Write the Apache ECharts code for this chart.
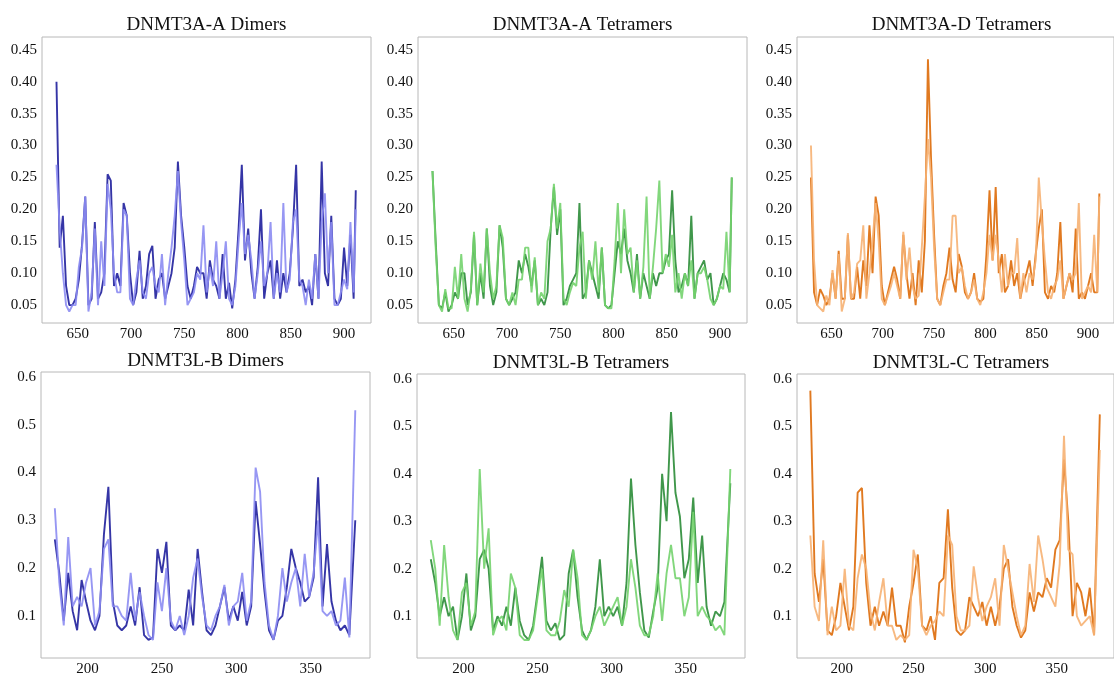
<!DOCTYPE html>
<html><head><meta charset="utf-8">
<script src="https://cdn.jsdelivr.net/npm/echarts@6/dist/echarts.min.js"></script>
<style>html,body{margin:0;padding:0;background:#fff}#c{width:1114px;height:677px}</style>
</head><body><div id="c"></div>
<script>
const panelTitles = ["DNMT3A-A Dimers","DNMT3A-A Tetramers","DNMT3A-D Tetramers","DNMT3L-B Dimers","DNMT3L-B Tetramers","DNMT3L-C Tetramers"];

const residuesTop = [630,633,636,639,642,645,648,651,654,657,660,663,666,669,672,675,678,681,684,687,690,693,696,699,702,705,708,711,714,717,720,723,726,729,732,735,738,741,744,747,750,753,756,759,762,765,768,771,774,777,780,783,786,789,792,795,798,801,804,807,810,813,816,819,822,825,828,831,834,837,840,843,846,849,852,855,858,861,864,867,870,873,876,879,882,885,888,891,894,897,900,903,906,909,911];
const residuesBottom = [178,181,184,187,190,193,196,199,202,205,208,211,214,217,220,223,226,229,232,235,238,241,244,247,250,253,256,259,262,265,268,271,274,277,280,283,286,289,292,295,298,301,304,307,310,313,316,319,322,325,328,331,334,337,340,343,346,349,352,355,358,361,364,367,370,373,376,380];

const yTicksTop = [0.05,0.10,0.15,0.20,0.25,0.30,0.35,0.40,0.45];
const yTicksBottom = [0.1,0.2,0.3,0.4,0.5,0.6];
const xTicksTop = [650,700,750,800,850,900];
const xTicksBottom = [200,250,300,350];

const p1Dark = [0.40,0.14,0.19,0.08,0.05,0.05,0.06,0.09,0.145,0.22, 0.05,0.06,0.18,0.06,0.07,0.10,0.255,0.245,0.08,0.10, 0.08,0.21,0.19,0.10,0.05,0.07,0.135,0.06,0.08,0.13, 0.143,0.06,0.09,0.10,0.06,0.08,0.10,0.14,0.275,0.19, 0.14,0.08,0.06,0.08,0.11,0.10,0.10,0.06,0.12,0.09, 0.08,0.06,0.13,0.06,0.085,0.045,0.09,0.17,0.27,0.12, 0.17,0.10,0.06,0.11,0.20,0.06,0.10,0.12,0.06,0.12, 0.06,0.10,0.07,0.10,0.17,0.27,0.08,0.09,0.07,0.08, 0.05,0.13,0.06,0.275,0.10,0.08,0.19,0.06,0.05,0.06, 0.14,0.08,0.16,0.06,0.23];
const p1Light = [0.27,0.17,0.10,0.05,0.04,0.05,0.05,0.11,0.14,0.22, 0.04,0.07,0.17,0.05,0.15,0.08,0.24,0.20,0.10,0.07, 0.07,0.20,0.19,0.06,0.05,0.09,0.12,0.07,0.06,0.10, 0.11,0.08,0.07,0.13,0.05,0.10,0.14,0.19,0.26,0.18, 0.12,0.05,0.06,0.07,0.10,0.09,0.175,0.07,0.11,0.08, 0.15,0.06,0.10,0.15,0.06,0.05,0.08,0.15,0.21,0.13, 0.16,0.12,0.06,0.10,0.15,0.08,0.10,0.18,0.06,0.10, 0.07,0.21,0.07,0.09,0.18,0.20,0.09,0.08,0.05,0.09, 0.06,0.13,0.06,0.18,0.225,0.10,0.18,0.05,0.05,0.07, 0.09,0.075,0.18,0.07,0.20];
const p2Dark = [0.26,0.15,0.05,0.045,0.07,0.04,0.05,0.07,0.06,0.10, 0.10,0.05,0.07,0.16,0.05,0.10,0.06,0.17,0.08,0.05, 0.07,0.175,0.14,0.06,0.05,0.06,0.07,0.12,0.10,0.13, 0.11,0.08,0.12,0.05,0.06,0.05,0.07,0.17,0.235,0.16, 0.20,0.05,0.06,0.08,0.09,0.10,0.21,0.06,0.07,0.12, 0.10,0.08,0.06,0.14,0.05,0.045,0.05,0.10,0.15,0.13, 0.17,0.12,0.10,0.07,0.13,0.06,0.10,0.08,0.06,0.10, 0.08,0.10,0.10,0.12,0.13,0.23,0.12,0.07,0.08,0.10, 0.08,0.19,0.06,0.10,0.11,0.12,0.09,0.10,0.05,0.06, 0.08,0.10,0.09,0.07,0.25];
const p2Light = [0.26,0.14,0.05,0.04,0.075,0.045,0.045,0.11,0.06,0.13, 0.06,0.04,0.075,0.165,0.05,0.115,0.07,0.17,0.10,0.06, 0.08,0.175,0.155,0.06,0.05,0.07,0.05,0.09,0.09,0.14, 0.14,0.07,0.125,0.05,0.07,0.06,0.15,0.17,0.24,0.17, 0.21,0.06,0.05,0.07,0.085,0.08,0.14,0.165,0.06,0.12, 0.09,0.15,0.07,0.14,0.05,0.045,0.045,0.12,0.21,0.10, 0.20,0.13,0.14,0.07,0.12,0.06,0.11,0.22,0.06,0.11, 0.17,0.245,0.10,0.13,0.11,0.16,0.07,0.10,0.06,0.10, 0.08,0.12,0.06,0.10,0.10,0.11,0.09,0.06,0.05,0.06, 0.08,0.075,0.165,0.07,0.25];
const p3Dark = [0.25,0.07,0.05,0.075,0.065,0.05,0.06,0.10,0.06,0.135, 0.06,0.06,0.16,0.06,0.06,0.11,0.06,0.12,0.08,0.175, 0.10,0.22,0.19,0.08,0.05,0.07,0.09,0.11,0.09,0.06, 0.16,0.10,0.06,0.10,0.05,0.12,0.07,0.15,0.435,0.28, 0.16,0.06,0.05,0.08,0.10,0.14,0.09,0.07,0.13,0.11, 0.07,0.06,0.07,0.10,0.06,0.055,0.06,0.13,0.23,0.12, 0.235,0.10,0.13,0.07,0.08,0.12,0.08,0.10,0.06,0.085, 0.10,0.12,0.08,0.13,0.17,0.20,0.07,0.06,0.08,0.07, 0.10,0.18,0.06,0.08,0.10,0.07,0.17,0.06,0.07,0.06, 0.08,0.10,0.07,0.07,0.225];
const p3Light = [0.30,0.12,0.05,0.045,0.04,0.065,0.05,0.105,0.06,0.13, 0.04,0.06,0.163,0.06,0.07,0.115,0.12,0.175,0.06,0.10, 0.15,0.21,0.15,0.06,0.05,0.065,0.08,0.10,0.08,0.06, 0.165,0.09,0.14,0.08,0.06,0.065,0.14,0.22,0.31,0.25, 0.14,0.06,0.05,0.07,0.09,0.09,0.19,0.19,0.10,0.11, 0.08,0.06,0.07,0.09,0.06,0.05,0.07,0.10,0.16,0.12, 0.16,0.12,0.07,0.13,0.08,0.10,0.10,0.155,0.06,0.10, 0.07,0.10,0.09,0.12,0.25,0.18,0.12,0.07,0.06,0.08, 0.09,0.12,0.06,0.08,0.10,0.09,0.10,0.21,0.06,0.07, 0.08,0.07,0.16,0.07,0.22];
const p4Dark = [0.26,0.19,0.09,0.19,0.11,0.07,0.175,0.13,0.09,0.07, 0.10,0.27,0.37,0.13,0.08,0.07,0.08,0.12,0.08,0.16, 0.06,0.05,0.055,0.24,0.19,0.255,0.08,0.07,0.08,0.07, 0.155,0.08,0.24,0.15,0.07,0.06,0.08,0.12,0.16,0.09, 0.12,0.09,0.15,0.08,0.12,0.34,0.25,0.15,0.07,0.05, 0.09,0.10,0.16,0.24,0.20,0.17,0.13,0.14,0.18,0.39, 0.12,0.25,0.13,0.09,0.07,0.08,0.06,0.30];
const p4Light = [0.325,0.17,0.08,0.265,0.12,0.14,0.12,0.17,0.20,0.08, 0.11,0.24,0.26,0.12,0.12,0.10,0.09,0.19,0.09,0.15, 0.10,0.06,0.05,0.17,0.11,0.20,0.09,0.07,0.10,0.06, 0.10,0.18,0.22,0.14,0.08,0.07,0.10,0.12,0.165,0.08, 0.12,0.13,0.19,0.09,0.13,0.41,0.36,0.17,0.08,0.05, 0.10,0.20,0.13,0.17,0.20,0.12,0.23,0.14,0.19,0.30, 0.11,0.10,0.11,0.08,0.09,0.18,0.055,0.53];
const p5Dark = [0.22,0.17,0.10,0.14,0.10,0.12,0.05,0.10,0.19,0.07, 0.10,0.22,0.24,0.20,0.07,0.10,0.08,0.12,0.08,0.16, 0.09,0.06,0.05,0.08,0.15,0.225,0.09,0.07,0.085,0.05, 0.06,0.19,0.24,0.14,0.07,0.05,0.07,0.12,0.22,0.10, 0.12,0.10,0.12,0.08,0.17,0.39,0.25,0.15,0.07,0.055, 0.11,0.16,0.40,0.30,0.53,0.36,0.31,0.18,0.22,0.35, 0.17,0.27,0.12,0.08,0.11,0.10,0.13,0.38];
const p5Light = [0.26,0.20,0.08,0.25,0.14,0.07,0.05,0.15,0.17,0.08, 0.11,0.41,0.20,0.285,0.06,0.09,0.10,0.07,0.19,0.16, 0.06,0.05,0.05,0.07,0.14,0.20,0.07,0.06,0.06,0.09, 0.155,0.12,0.24,0.18,0.06,0.05,0.07,0.10,0.12,0.08, 0.10,0.12,0.14,0.08,0.12,0.22,0.16,0.08,0.06,0.06, 0.10,0.19,0.09,0.19,0.25,0.18,0.18,0.10,0.14,0.32, 0.10,0.12,0.10,0.09,0.07,0.08,0.06,0.41];
const p6Dark = [0.575,0.19,0.13,0.22,0.07,0.06,0.10,0.17,0.12,0.07, 0.12,0.36,0.37,0.17,0.08,0.12,0.08,0.11,0.08,0.16, 0.08,0.08,0.045,0.12,0.17,0.23,0.08,0.07,0.10,0.05, 0.17,0.18,0.325,0.16,0.07,0.06,0.07,0.14,0.12,0.10, 0.13,0.08,0.12,0.08,0.12,0.20,0.22,0.12,0.08,0.055, 0.07,0.15,0.11,0.15,0.14,0.18,0.16,0.24,0.26,0.43, 0.30,0.10,0.17,0.15,0.10,0.16,0.06,0.525];
const p6Light = [0.27,0.12,0.09,0.26,0.06,0.12,0.07,0.08,0.20,0.08, 0.07,0.18,0.23,0.20,0.11,0.07,0.13,0.18,0.08,0.08, 0.05,0.06,0.05,0.06,0.24,0.20,0.08,0.06,0.08,0.09, 0.11,0.10,0.27,0.25,0.10,0.07,0.07,0.08,0.205,0.14, 0.09,0.12,0.14,0.18,0.08,0.25,0.20,0.15,0.10,0.06, 0.08,0.21,0.13,0.27,0.22,0.16,0.14,0.12,0.21,0.48, 0.24,0.23,0.10,0.08,0.09,0.10,0.06,0.45];

const seriesSets = [[p1Dark,p1Light],[p2Dark,p2Light],[p3Dark,p3Light],[p4Dark,p4Light],[p5Dark,p5Light],[p6Dark,p6Light]];
seriesSets.forEach((s,i)=>{const n=(i<3?residuesTop:residuesBottom).length; s.forEach(a=>{if(a.length!==n) throw new Error('length mismatch panel '+(i+1)+': '+a.length+' vs '+n);});});

const grids = [
  {left:42, top:37, width:329, height:286},
  {left:418, top:37, width:329, height:286},
  {left:797, top:37, width:329, height:286},
  {left:41, top:372, width:329, height:286},
  {left:417, top:374, width:328, height:287},
  {left:797, top:374, width:328, height:287}
];
const titleY = [25,25,25,361,363,363];
const palette = [
  ['#1f1f9c','#8c8cf2'],
  ['#2b8c37','#74d36e'],
  ['#dd6a08','#f6b173'],
  ['#1f1f9c','#8c8cf2'],
  ['#2b8c37','#74d36e'],
  ['#dd6a08','#f6b173']
];
const FONT = '"Liberation Serif","Times New Roman",serif';

function near(v, ticks){ return ticks.some(t=>Math.abs(t-v)<1e-6); }

const option = {
  animation:false,
  backgroundColor:'#fff',
  grid: grids.map(g=>Object.assign({show:true, borderColor:'#b8b8b8', borderWidth:1, backgroundColor:'transparent', containLabel:false}, g)),
  xAxis: grids.map((g,i)=>{
    const top = i<3;
    const ticks = top?xTicksTop:xTicksBottom;
    return {
      type:'value', gridIndex:i,
      min: top?616.4:168.7, max: top?925.3:389.9,
      splitNumber: top?6:4,
      axisLine:{show:false}, axisTick:{show:false}, splitLine:{show:false},
      axisLabel:{show:true, margin:4, color:'#111', fontFamily:FONT, fontSize:15,
        showMinLabel:false, showMaxLabel:false,
        formatter:v=> near(v,ticks)? String(Math.round(v)) : ''}
    };
  }),
  yAxis: grids.map((g,i)=>{
    const top = i<3;
    const ticks = top?yTicksTop:yTicksBottom;
    return {
      type:'value', gridIndex:i,
      min: top?0.022:0.012, max: top?0.470:0.610,
      splitNumber: top?9:6,
      axisLine:{show:false}, axisTick:{show:false}, splitLine:{show:false},
      axisLabel:{show:true, margin:5, color:'#111', fontFamily:FONT, fontSize:15,
        showMinLabel:false, showMaxLabel:false,
        formatter:v=> near(v,ticks)? v.toFixed(top?2:1) : ''}
    };
  }),
  series: [],
  graphic: panelTitles.map((t,i)=>({
    type:'text', x: grids[i].left + grids[i].width/2, y: titleY[i],
    style:{text:t, fill:'#111', font:'19px '+FONT, align:'center', verticalAlign:'middle', textAlign:'center', textVerticalAlign:'middle'}
  }))
};

seriesSets.forEach((pair,i)=>{
  const xs = i<3?residuesTop:residuesBottom;
  pair.forEach((vals,k)=>{
    option.series.push({
      type:'line', xAxisIndex:i, yAxisIndex:i,
      data: xs.map((x,j)=>[x, vals[j]]),
      showSymbol:false, symbol:'none',
      lineStyle:{color:palette[i][k], width:1.9, opacity:0.9},
      itemStyle:{color:palette[i][k]},
      z: 2+k
    });
  });
});

const chart = echarts.init(document.getElementById('c'), null, {renderer:'canvas'});
chart.setOption(option);
</script>
</body></html>
